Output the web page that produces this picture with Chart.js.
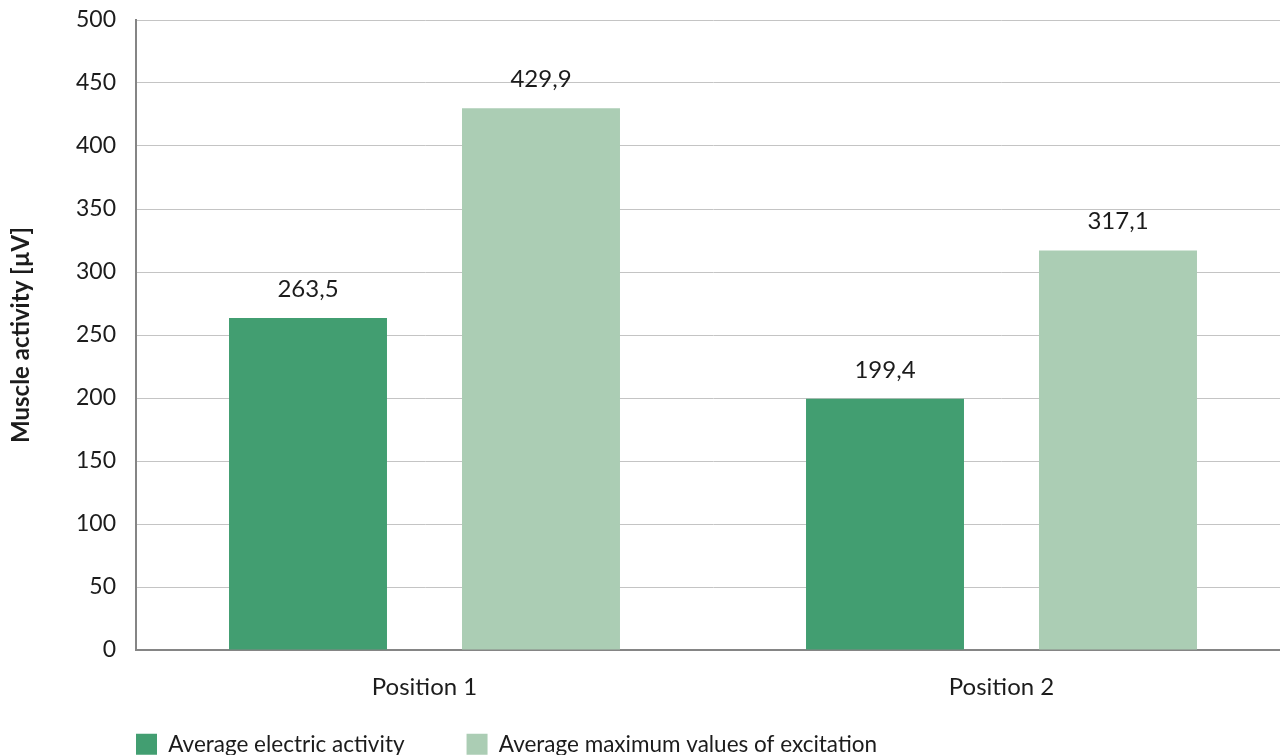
<!DOCTYPE html>
<html>
<head>
<meta charset="utf-8">
<script src="https://cdn.jsdelivr.net/npm/chart.js@4.4.0/dist/chart.umd.min.js"></script>
<style>
  html, body { margin: 0; padding: 0; background: #ffffff; overflow: hidden; }
  #wrap { width: 1280px; height: 755px; overflow: hidden; position: relative; }
  canvas { display: block; }
</style>
</head>
<body>
<div id="wrap"><canvas id="c" width="1290" height="755"></canvas></div>
<script>
const categories = ['Position 1', 'Position 2'];
const seriesNames = ['Average electric activity', 'Average maximum values of excitation'];
const electricActivity = [263.5, 199.4];
const maxExcitation = [429.9, 317.1];
const yTicks = [0, 50, 100, 150, 200, 250, 300, 350, 400, 450, 500];
const yTitle = 'Muscle activity [µV]';

const FONT = 'Lato, "Open Sans", sans-serif';
const TEXT = '#1c1c1c';

const fmt = v => v.toFixed(1).replace('.', ',');

const valueLabels = {
  id: 'valueLabels',
  afterDatasetsDraw(chart) {
    const ctx = chart.ctx;
    ctx.save();
    ctx.font = '24px ' + FONT;
    ctx.fillStyle = TEXT;
    ctx.textAlign = 'center';
    ctx.textBaseline = 'alphabetic';
    chart.data.datasets.forEach((ds, i) => {
      const meta = chart.getDatasetMeta(i);
      meta.data.forEach((bar, j) => {
        ctx.fillText(fmt(ds.data[j]), bar.x, bar.y - 21);
      });
    });
    ctx.restore();
  }
};

const legendShift = {
  id: 'legendShift',
  afterLayout(chart) {
    const lg = chart.legend;
    const pad = lg.options.labels.padding;
    lg.left = 136 - pad;
    lg.top = 733 - pad;
    lg.bottom = 760;
    lg.height = lg.bottom - lg.top;
  }
};

new Chart(document.getElementById('c'), {
  type: 'bar',
  data: {
    labels: categories,
    datasets: [
      { label: seriesNames[0], data: electricActivity, backgroundColor: '#429E71' },
      { label: seriesNames[1], data: maxExcitation, backgroundColor: '#ABCDB4' }
    ]
  },
  options: {
    responsive: false,
    animation: false,
    devicePixelRatio: 1,
    categoryPercentage: 0.8076,
    barPercentage: 0.678,
    layout: { padding: { top: 20, right: 0, left: 0, bottom: 0 } },
    plugins: {
      tooltip: { enabled: false },
      legend: {
        position: 'bottom',
        align: 'start',
        maxHeight: 40,
        labels: {
          boxWidth: 21,
          boxHeight: 21,
          padding: 62,
          color: TEXT,
          font: { family: FONT, size: 22.5 }
        }
      }
    },
    scales: {
      x: {
        grid: { display: false, drawTicks: false },
        border: { display: true, color: '#858585', width: 2 },
        ticks: { color: TEXT, font: { family: FONT, size: 24 }, padding: 23 },
        afterFit(s) { s.height = 65; }
      },
      y: {
        min: 0,
        max: 500,
        afterBuildTicks(s) { s.ticks = yTicks.map(v => ({ value: v })); },
        grid: { color: '#c4c4c4', lineWidth: 1, drawTicks: false },
        border: { display: true, color: '#858585', width: 2 },
        ticks: { color: TEXT, font: { family: FONT, size: 23 }, padding: 20 },
        title: {
          display: true,
          text: yTitle,
          color: TEXT,
          font: { family: FONT, size: 24, weight: 'bold' },
          padding: { top: 7, bottom: 0 }
        },
        afterFit(s) { s.width = 136; s.paddingTop = 0; s.paddingBottom = 0; }
      }
    }
  },
  plugins: [valueLabels, legendShift]
});
</script>
</body>
</html>
